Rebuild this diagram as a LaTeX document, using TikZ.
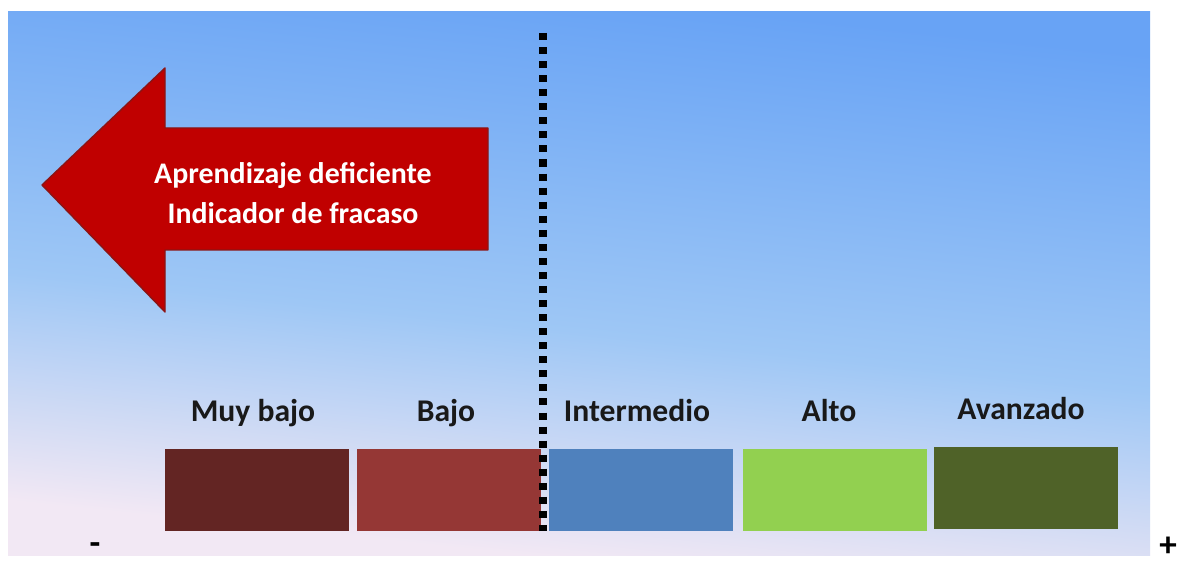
\documentclass[tikz,border=0pt]{standalone}
\usepackage{fontspec}
\setmainfont{Carlito}
\usetikzlibrary{positioning}
\definecolor{bgtop}{RGB}{104,163,245}
\definecolor{bgmid}{RGB}{158,199,245}
\definecolor{bgbot}{RGB}{242,232,244}
\definecolor{cMuy}{RGB}{99,37,35}
\definecolor{cBajo}{RGB}{149,55,53}
\definecolor{cInt}{RGB}{79,129,189}
\definecolor{cAlto}{RGB}{146,208,80}
\definecolor{cAva}{RGB}{79,98,40}
\definecolor{arrowfill}{RGB}{192,0,0}
\definecolor{arrowedge}{RGB}{140,20,20}
\pgfdeclareverticalshading{bgshade}{100bp}{color(0bp)=(bgbot); color(27bp)=(bgbot); color(46bp)=(bgmid); color(74bp)=(bgtop); color(100bp)=(bgtop)}
\tikzset{
  levelbox/.style={minimum width=3.68cm, minimum height=1.64cm, inner sep=0pt, outer sep=0pt},
  levellabel/.style={font=\bfseries\fontsize{18}{20}\selectfont, text=black!90, anchor=base},
  sign/.style={font=\bfseries\fontsize{20}{22}\selectfont, text=black, inner sep=0pt}
}
\begin{document}
\begin{tikzpicture}[x=0.02cm, y=-0.02cm]
\useasboundingbox (0,0) rectangle (1182,563);
\fill[white] (0,0) rectangle (1182,563);
\shade[shading=bgshade, shading angle=-6] (8,12) rectangle (1150,555);
% arrow
\draw[fill=arrowfill, draw=arrowedge, line width=0.8pt, line join=round]
  (42,185) -- (165,68) -- (165,128) -- (488,128) -- (488,250) -- (165,250) -- (165,312) -- cycle;
\node[text=white, font=\bfseries\fontsize{17}{22.5}\selectfont, align=center] (arrowtxt) at (293,193)
  {Aprendizaje deficiente\\Indicador de fracaso};
% boxes
\node[levelbox, fill=cMuy] (muy) at (257,490) {};
\node[levelbox, fill=cBajo] (bajo) at (449,490) {};
\node[levelbox, fill=cInt] (int) at (641,490) {};
\node[levelbox, fill=cAlto] (alto) at (835,490) {};
\node[levelbox, fill=cAva] (ava) at (1026,488) {};
% labels
\node[levellabel] (lmuy) at (253,421) {Muy bajo};
\node[levellabel] (lbajo) at (446,421) {Bajo};
\node[levellabel] (lint) at (637,421) {Intermedio};
\node[levellabel] (lalto) at (829,421) {Alto};
\node[levellabel] (lava) at (1021,419) {Avanzado};
% dotted divider
\coordinate (dtop) at (543,33);
\coordinate (dbot) at (543,531);
\draw[line width=4pt, dash pattern=on 4pt off 4pt] (dtop) -- (dbot);
% signs
\node[sign] (minus) at (95,549) {-};
\node[sign] (plus) at (1168,547) {+};
\end{tikzpicture}
\end{document}
